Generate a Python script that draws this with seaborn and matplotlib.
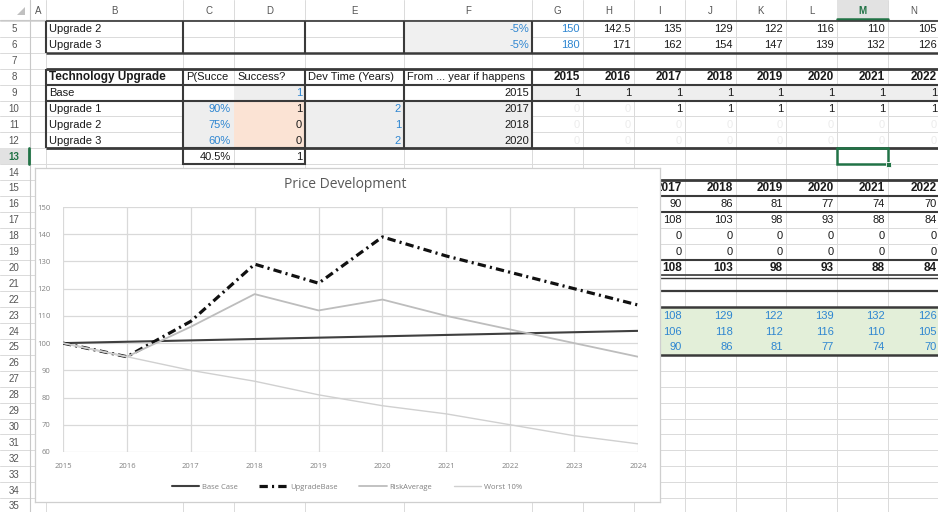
import matplotlib
matplotlib.use("Agg")
import matplotlib.pyplot as plt
from matplotlib.patches import Rectangle, Polygon
import pandas as pd
import seaborn as sns

# ---------------- chart data ----------------
years = [2015, 2016, 2017, 2018, 2019, 2020, 2021, 2022, 2023, 2024]
base_case = [100, 100.5, 101, 101.5, 102, 102.5, 103, 103.5, 104, 104.5]
upgrade_base = [100, 95, 108, 129, 122, 139, 132, 126, 120, 114]
risk_average = [100, 95, 106, 118, 112, 116, 110, 105, 100, 95]
worst_10 = [100, 95, 90, 86, 81, 77, 74, 70, 66, 63]
series_names = ["Base Case", "UpgradeBase", "RiskAverage", "Worst 10%"]

# ---------------- worksheet data ----------------
sheet_years = [2015, 2016, 2017, 2018, 2019, 2020, 2021, 2022]
upgrade2_prices = ["150", "142.5", "135", "129", "122", "116", "110", "105"]
upgrade3_prices = ["180", "171", "162", "154", "147", "139", "132", "126"]
tech_names = ["Base", "Upgrade 1", "Upgrade 2", "Upgrade 3"]
p_success = ["", "90%", "75%", "60%"]
success_flags = ["1", "1", "0", "0"]
dev_times = ["", "2", "1", "2"]
from_years = ["2015", "2017", "2018", "2020"]
active_flags = [
    [1, 1, 1, 1, 1, 1, 1, 1],
    [0, 0, 1, 1, 1, 1, 1, 1],
    [0, 0, 0, 0, 0, 0, 0, 0],
    [0, 0, 0, 0, 0, 0, 0, 0],
]
path_years = [2017, 2018, 2019, 2020, 2021, 2022]
upgrade1_path = [108, 103, 98, 93, 88, 84]
upgrade2_path = [0, 0, 0, 0, 0, 0]
upgrade3_path = [0, 0, 0, 0, 0, 0]
total_path = [108, 103, 98, 93, 88, 84]

W, H = 938, 512
fig = plt.figure(figsize=(W / 100, H / 100), dpi=100)
sns.set_style("white")
plt.rcParams["font.family"] = ["Liberation Sans", "DejaVu Sans"]
plt.rcParams["lines.scale_dashes"] = False

bg = fig.add_axes([0, 0, 1, 1])
bg.set_xlim(0, W)
bg.set_ylim(H, 0)
bg.axis("off")

COLS = {"A": (30, 46), "B": (46, 183), "C": (183, 234), "D": (234, 305),
        "E": (305, 404), "F": (404, 532), "G": (532, 583), "H": (583, 634),
        "I": (634, 685), "J": (685, 736), "K": (736, 786), "L": (786, 837),
        "M": (837, 888), "N": (888, 940)}
YCOLS = list("GHIJKLMN")
ROW_H = 15.9
GRID = "#dadada"
DARK = "#3a3a3a"
BLUE = "#2e86d1"
FAINT = "#ececec"


def rtop(n):
    return 21 + (n - 5) * ROW_H


def fill(c0, c1, r0, r1, color):
    x0 = COLS[c0][0]
    x1 = COLS[c1][1]
    bg.add_patch(Rectangle((x0, rtop(r0)), x1 - x0, rtop(r1 + 1) - rtop(r0),
                           facecolor=color, edgecolor="none", zorder=2))


def hline(y, x0, x1, lw=1.5, color=DARK):
    bg.plot([x0, x1], [y, y], color=color, lw=lw, zorder=4, solid_capstyle="butt")


def vline(x, y0, y1, lw=1.5, color=DARK):
    bg.plot([x, x], [y0, y1], color=color, lw=lw, zorder=4, solid_capstyle="butt")


def cell(col, row, s, align="right", color="#1a1a1a", bold=False, size=8):
    x0, x1 = COLS[col]
    y = rtop(row) + ROW_H / 2 + 0.5
    if align == "right":
        x, ha = x1 - 3, "right"
    elif align == "left":
        x, ha = x0 + 3, "left"
    else:
        x, ha = (x0 + x1) / 2, "center"
    return bg.text(x, y, s, ha=ha, va="center", fontsize=size, color=color,
                   fontweight="bold" if bold else "normal", zorder=5)


# gridlines
for n in range(5, 37):
    bg.plot([0, W], [rtop(n), rtop(n)], color=GRID, lw=0.7, zorder=1)
bg.plot([0, W], [20, 20], color="#c8c8c8", lw=0.8, zorder=1)
for c, (x0, x1) in COLS.items():
    bg.plot([x0, x0], [0, H], color=GRID, lw=0.7, zorder=1)
bg.plot([30, 30], [0, H], color="#c8c8c8", lw=0.8, zorder=1)

# column headers
for c, (x0, x1) in COLS.items():
    sel = c == "M"
    if sel:
        bg.add_patch(Rectangle((x0, 0), x1 - x0, 20, facecolor="#e2e2e2", edgecolor="none", zorder=2))
        bg.plot([x0, x1], [19.3, 19.3], color="#217346", lw=1.8, zorder=4)
    bg.text((x0 + x1) / 2, 11, c, ha="center", va="center", fontsize=7,
            color="#217346" if sel else "#555555", fontweight="bold" if sel else "normal", zorder=5)
bg.add_patch(Polygon([[25, 7], [25, 15], [17, 15]], closed=True, facecolor="#c0c0c0",
                     edgecolor="none", zorder=3))

# row headers
for n in range(5, 36):
    sel = n == 13
    if sel:
        bg.add_patch(Rectangle((0, rtop(n)), 30, ROW_H, facecolor="#e2e2e2", edgecolor="none", zorder=2))
        bg.plot([28.8, 28.8], [rtop(n), rtop(n + 1)], color="#217346", lw=2, zorder=4)
    bg.text(14, rtop(n) + ROW_H / 2 + 0.5, str(n), ha="center", va="center", fontsize=7,
            color="#217346" if sel else "#555555", fontweight="bold" if sel else "normal", zorder=5)

# fills
fill("F", "F", 5, 6, "#f0f0f0")
fill("D", "D", 9, 9, "#eeeeee")
fill("G", "N", 9, 9, "#eeeeee")
fill("C", "C", 10, 12, "#eeeeee")
fill("D", "D", 10, 12, "#fbe3d4")
fill("E", "F", 10, 12, "#eeeeee")
fill("I", "N", 23, 25, "#e3efd9")

# top table rows 5-6
hline(rtop(5), 46, W, lw=1.2)
hline(rtop(7), 46, W, lw=1.8)
for x in (46, 183, 305, 404, 532):
    vline(x, rtop(5), rtop(7))
cell("B", 5, "Upgrade 2", align="left")
cell("B", 6, "Upgrade 3", align="left")
cell("F", 5, "-5%", color=BLUE)
cell("F", 6, "-5%", color=BLUE)
for i, c in enumerate(YCOLS):
    cell(c, 5, upgrade2_prices[i], color=BLUE if i == 0 else "#1a1a1a")
    cell(c, 6, upgrade3_prices[i], color=BLUE if i == 0 else "#1a1a1a")

# technology upgrade table rows 8-12
hline(rtop(8), 46, W, lw=2)
hline(rtop(9), 46, W, lw=1.5)
hline(rtop(10), 46, W, lw=1.5)
hline(rtop(13), 46, W, lw=2)
for x in (46, 183, 305, 404, 532):
    vline(x, rtop(8), rtop(13))
cell("B", 8, "Technology Upgrade", align="left", bold=True, size=8.5)
cell("C", 8, "P(Succe", align="left")
cell("D", 8, "Success?", align="left")
cell("E", 8, "Dev Time (Years)", align="left")
cell("F", 8, "From ... year if happens", align="left")
for i, c in enumerate(YCOLS):
    cell(c, 8, str(sheet_years[i]), bold=True, size=8.5)
for k in range(4):
    row = 9 + k
    cell("B", row, tech_names[k], align="left")
    if p_success[k]:
        cell("C", row, p_success[k], color=BLUE)
    cell("D", row, success_flags[k], color=BLUE if k == 0 else "#1a1a1a")
    if dev_times[k]:
        cell("E", row, dev_times[k], color=BLUE)
    cell("F", row, from_years[k])
    for i, c in enumerate(YCOLS):
        v = active_flags[k][i]
        cell(c, row, str(v), color="#1a1a1a" if v else FAINT)

# row 13 result cells
bg.add_patch(Rectangle((183, rtop(13)), 305 - 183, ROW_H, facecolor="none",
                       edgecolor=DARK, lw=1.5, zorder=4))
cell("C", 13, "40.5%")
cell("D", 13, "1")
bg.add_patch(Rectangle((837, rtop(13)), 888 - 837, ROW_H, facecolor="none",
                       edgecolor="#217346", lw=1.8, zorder=6))
bg.add_patch(Rectangle((885.5, rtop(14) - 2.5), 5, 5, facecolor="#217346",
                       edgecolor="white", lw=0.6, zorder=7))

# price path table rows 15-25
for r, lw in ((15, 2), (16, 1.5), (17, 1.5), (20, 1.5), (21, 1.2), (22, 1.6), (23, 1.8), (26, 1.8)):
    hline(rtop(r), 600, W, lw=lw)
hline(rtop(21) + 2.5, 600, W, lw=1.0)
pcols = list("IJKLMN")
for i, c in enumerate(pcols):
    cell(c, 15, str(path_years[i]), bold=True, size=8.5)
    cell(c, 16, str(worst_10[2 + i]))
    cell(c, 17, str(upgrade1_path[i]))
    cell(c, 18, str(upgrade2_path[i]))
    cell(c, 19, str(upgrade3_path[i]))
    cell(c, 20, str(total_path[i]), bold=True, size=8.5)
    cell(c, 23, f"{upgrade_base[2 + i]:.0f}", color=BLUE)
    cell(c, 24, f"{risk_average[2 + i]:.0f}", color=BLUE)
    cell(c, 25, f"{worst_10[2 + i]:.0f}", color=BLUE)

# ---------------- chart ----------------
frame = fig.add_axes([35 / W, 1 - 502 / H, (660 - 35) / W, (502 - 168) / H])
frame.set_xticks([])
frame.set_yticks([])
frame.set_facecolor("white")
for s in frame.spines.values():
    s.set_color("#cfcfcf")
    s.set_linewidth(0.9)

ax = fig.add_axes([63 / W, 1 - 452 / H, (638 - 63) / W, (452 - 207) / H])
ax.set_facecolor("none")

df = pd.DataFrame({
    "year": years * 4,
    "price": base_case + upgrade_base + risk_average + worst_10,
    "series": [n for n in series_names for _ in years],
})
styles = {
    "Base Case": dict(color="#3f3f3f", lw=1.5, linestyle="-"),
    "UpgradeBase": dict(color="#111111", lw=2.3, linestyle=(0, (6, 3, 1.5, 3))),
    "RiskAverage": dict(color="#bdbdbd", lw=1.3, linestyle="-"),
    "Worst 10%": dict(color="#d0d0d0", lw=1.0, linestyle="-"),
}
for name in series_names:
    sns.lineplot(data=df[df["series"] == name], x="year", y="price", ax=ax,
                 label=name, errorbar=None, **styles[name])

ax.set_xlim(2015, 2024)
ax.set_ylim(60, 150)
ax.set_xticks(years)
ax.set_yticks(range(60, 151, 10))
ax.grid(True, color="#d9d9d9", lw=0.9)
for s in ax.spines.values():
    s.set_visible(False)
ax.tick_params(length=0, labelsize=5.5, labelcolor="#808080")
ax.tick_params(axis="y", pad=9)
ax.tick_params(axis="x", pad=8)
ax.set_xlabel("")
ax.set_ylabel("")
for lab in ax.get_xticklabels() + ax.get_yticklabels():
    lab.set_family(["Open Sans", "DejaVu Sans"])

ax.legend(loc="center", bbox_to_anchor=(347 / W, 1 - 487 / H), bbox_transform=fig.transFigure,
          ncol=4, frameon=False, handlelength=3.6, columnspacing=2.8,
          handletextpad=0.4, labelcolor="#808080",
          prop={"family": ["Open Sans", "DejaVu Sans"], "size": 5.5})

fig.text(345 / W, 1 - 185 / H, "Price Development", ha="center", va="center", fontsize=10,
         color="#595959", family=["Open Sans", "DejaVu Sans"])

fig.savefig("out.png", dpi=100)
